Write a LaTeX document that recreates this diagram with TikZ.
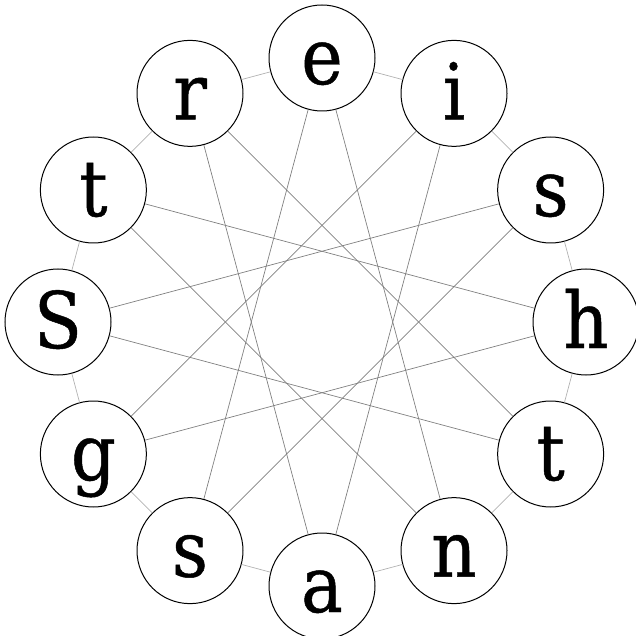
\documentclass[tikz,border=0pt]{standalone}
\usepackage{fontspec}
\setmainfont[FakeBold=0.6]{DejaVu Serif Condensed}
\begin{document}
\begin{tikzpicture}[x=1pt,y=1pt,
  letter/.style={circle, draw=black, line width=1pt, fill=white, minimum size=106pt, inner sep=0pt,
    font=\fontsize{78}{82}\selectfont, text height=70pt, text depth=18pt},
  ring/.style={draw=black!30, line width=0.7pt},
  star/.style={draw=black!50, line width=0.7pt}]
\useasboundingbox (0,0) rectangle (636,635);
\coordinate (c) at (322,313);
\foreach \l [count=\i from 0] in {e,i,s,h,t,n,a,s,g,S,t,r}
  \node[letter] (n\i) at ([shift={(90-30*\i:264)}]c) {\l};
\foreach \i in {0,...,11} {
  \pgfmathtruncatemacro\j{mod(\i+1,12)}
  \pgfmathtruncatemacro\k{mod(\i+5,12)}
  \draw[ring] (n\i) -- (n\j);
  \draw[star] (n\i) -- (n\k);
}
\end{tikzpicture}
\end{document}
